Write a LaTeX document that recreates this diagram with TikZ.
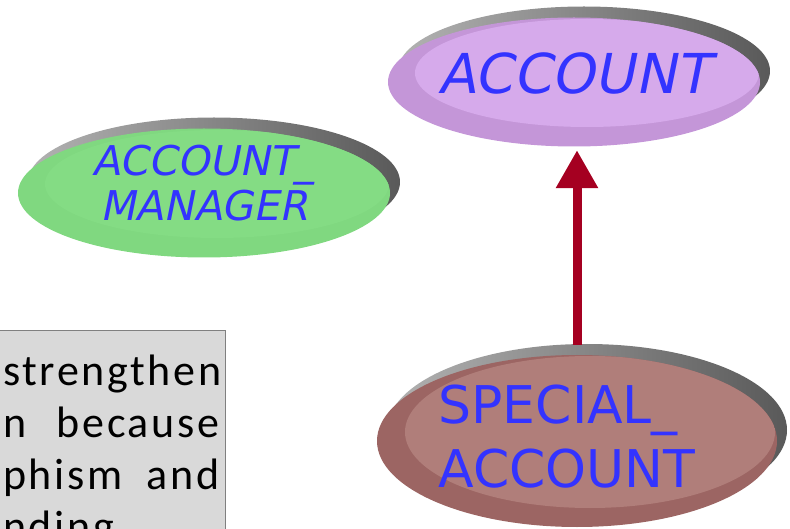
\documentclass[tikz,border=0pt]{standalone}
\usepackage{fontspec}
\setmainfont{Carlito}
\newfontfamily\comicfont{DejaVu Sans}
\newfontfamily\comicslant[FakeSlant=0.2]{DejaVu Sans}
\newfontfamily\notefont[LetterSpace=6]{Carlito}
\usetikzlibrary{shapes.geometric,arrows.meta}

\definecolor{labelblue}{RGB}{51,51,255}
\definecolor{arrowred}{RGB}{165,0,33}
\definecolor{purpleedge}{RGB}{196,150,216}
\definecolor{purplelight}{RGB}{214,170,235}
\definecolor{greenedge}{RGB}{128,216,128}
\definecolor{greenlight}{RGB}{132,220,132}
\definecolor{brownedge}{RGB}{156,101,99}
\definecolor{brownlight}{RGB}{176,126,122}
\definecolor{notegray}{RGB}{217,217,217}

\tikzset{
	blob/.style n args={4}{ellipse, inner xsep=-20pt, inner ysep=-10pt,
		text=labelblue, align=center, fill=#1,
		preaction={left color=black!30, right color=black!65,
			transform canvas={xshift=10pt,yshift=11pt}},
		path picture={\fill[#2] ([xshift=13pt,yshift=9pt]path picture bounding box.center)
			ellipse [x radius=#3, y radius=#4];}},
	inherit/.style={draw=arrowred, line width=9pt,
		-{Triangle[length=38pt,width=40pt]}},
	notebox/.style={draw=black!50, line width=1.5pt, fill=notegray,
		text width=216pt, align=justify, inner xsep=6pt, inner ysep=24pt,
		font=\notefont\fontsize{44}{52}\selectfont,
		execute at begin node={\hyphenpenalty=10000\relax}}
}

\begin{document}
\begin{tikzpicture}[x=1pt,y=-1pt]
	\clip (0,0) rectangle (790,529);
	\useasboundingbox (0,0) rectangle (790,529);
	% classes
	\node[blob={purpleedge}{purplelight}{172pt}{54pt}, minimum width=372, minimum height=129,
		text depth=18pt, font=\comicslant\fontsize{55}{60}\selectfont] (account) at (574,82) {ACCOUNT};
	\node[blob={greenedge}{greenlight}{172pt}{54pt}, minimum width=372, minimum height=129,
		text depth=20pt, font=\comicslant\fontsize{41}{45}\selectfont] (manager) at (204,193) {ACCOUNT\_\\MANAGER};
	\node[blob={brownedge}{brownlight}{185pt}{76pt}, minimum width=400, minimum height=172,
		align=left, text depth=10pt, font=\comicfont\fontsize{52}{64}\selectfont] (special) at (577,441) {SPECIAL\_\\ACCOUNT\hspace*{20pt}};
	% inheritance
	\draw[inherit, shorten <=10pt, shorten >=3.5pt] (special.north) -- (special.north |- account.south);
	% note
	\node[notebox, anchor=north east] (note) at (226,330)
		{strengthen\linebreak n because\linebreak phism and\linebreak nding};
\end{tikzpicture}
\end{document}
